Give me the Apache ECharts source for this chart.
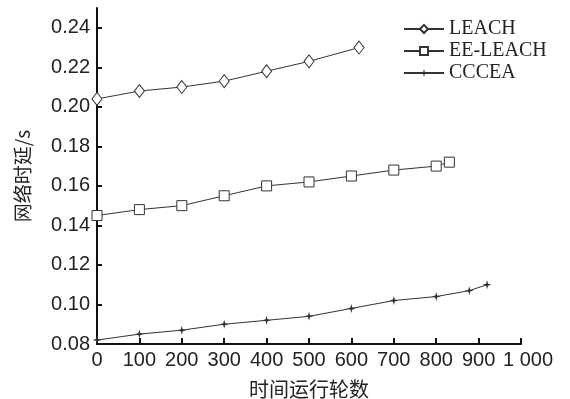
<!DOCTYPE html>
<html><head><meta charset="utf-8">
<script src="https://cdn.jsdelivr.net/npm/echarts@6/dist/echarts.min.js"></script>
<style>html,body{margin:0;padding:0;background:#fff}#c{width:570px;height:399px}</style>
</head><body><div id="c"></div>
<script>
const leachX = [0,100,200,300,400,500,618];
const leachY = [0.204,0.208,0.210,0.213,0.218,0.223,0.230];
const eeX = [0,100,200,300,400,500,600,700,800,831];
const eeY = [0.145,0.148,0.150,0.155,0.160,0.162,0.165,0.168,0.170,0.172];
const ccX = [0,100,200,300,400,500,600,700,800,878,920];
const ccY = [0.082,0.085,0.087,0.090,0.092,0.094,0.098,0.102,0.104,0.107,0.110];
const yTicks = [0.08,0.10,0.12,0.14,0.16,0.18,0.20,0.22,0.24];
const xTicks = [0,100,200,300,400,500,600,700,800,900,1000];
const names = ['LEACH','EE-LEACH','CCCEA'];

const zip = (xs, ys) => xs.map((x, i) => [x, ys[i]]);
const star = 'path://M0,-6 L1.3,-1.3 L6,0 L1.3,1.3 L0,6 L-1.3,1.3 L-6,0 L-1.3,-1.3 Z';
const lineStyle = {color:'#333', width:1};
const chart = echarts.init(document.getElementById('c'), null, {renderer:'canvas'});
chart.setOption({
  animation:false,
  backgroundColor:'#fff',
  grid:{left:97, right:49, top:8, bottom:55, outerBoundsMode:'none', containLabel:false},
  legend:{
    orient:'vertical', left:398, top:14, itemWidth:40, itemHeight:10, itemGap:2,
    textStyle:{fontFamily:'Liberation Serif', fontSize:20, color:'#222'},
    data:names
  },
  xAxis:{
    type:'value', min:0, max:1000, interval:100,
    name:'时间运行轮数', nameLocation:'middle', nameGap:35,
    nameTextStyle:{fontFamily:'Noto Sans CJK SC', fontSize:20, color:'#222'},
    axisLine:{lineStyle:{color:'#111', width:2}},
    axisTick:{inside:true, length:6, lineStyle:{color:'#111', width:2}},
    axisLabel:{fontFamily:'Liberation Sans', fontSize:20, color:'#222', margin:6,
      formatter:v => v === 1000 ? '{p|1 000}' : String(v),
      rich:{p:{fontFamily:'Liberation Sans', fontSize:20, color:'#222', padding:[0,0,0,14]}}},
    splitLine:{show:false}
  },
  yAxis:{
    type:'value', min:0.08, max:0.25, interval:0.02,
    name:'网络时延/s', nameLocation:'middle', nameGap:65,
    nameTextStyle:{fontFamily:'Noto Sans CJK SC', fontSize:19, color:'#222'},
    axisLine:{show:true, lineStyle:{color:'#111', width:2}},
    axisTick:{inside:true, length:5, lineStyle:{color:'#111', width:2}, customValues:yTicks},
    axisLabel:{fontFamily:'Liberation Sans', fontSize:20, color:'#222', margin:7,
      customValues:yTicks, formatter:v => v.toFixed(2)},
    splitLine:{show:false}
  },
  series:[
    {name:names[0], type:'line', data:zip(leachX, leachY), symbol:'diamond', symbolSize:[10,13],
     lineStyle, itemStyle:{color:'#fff', borderColor:'#333', borderWidth:1}},
    {name:names[1], type:'line', data:zip(eeX, eeY), symbol:'rect', symbolSize:10,
     lineStyle, itemStyle:{color:'#fff', borderColor:'#333', borderWidth:1}},
    {name:names[2], type:'line', data:zip(ccX, ccY), symbol:star, symbolSize:9,
     lineStyle, itemStyle:{color:'#333', borderWidth:0}}
  ]
});
</script></body></html>
